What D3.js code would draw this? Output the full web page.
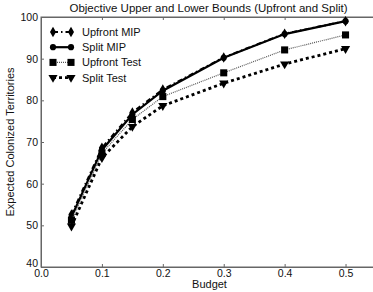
<!DOCTYPE html>
<html>
<head>
<meta charset="utf-8">
<script src="https://cdn.jsdelivr.net/npm/d3@7/dist/d3.min.js"></script>
<style>
  body { margin: 0; background: #fff; }
  svg { display: block; font-family: "Liberation Sans", Arial, sans-serif; }
</style>
</head>
<body>
<div id="chart"></div>
<script>
// budgets on x
var budgets = [0.05, 0.1, 0.15, 0.2, 0.3, 0.4, 0.5];

var upfrontMIP  = [52.6, 68.6, 77.1, 82.6, 90.3, 96.0, 99.0];
var splitMIP    = [52.0, 68.1, 76.6, 82.3, 90.2, 95.9, 99.0];
var upfrontTest = [51.2, 67.3, 75.4, 80.9, 86.6, 92.1, 95.7];
var splitTest   = [49.8, 66.2, 73.7, 78.7, 84.1, 88.7, 92.4];

var xTicks = [0, 0.1, 0.2, 0.3, 0.4, 0.5];
var yTicks = [40, 50, 60, 70, 80, 90, 100];

var seriesNames = ["Upfront MIP", "Split MIP", "Upfront Test", "Split Test"];

var margin = { top: 17, right: -3, bottom: 25, left: 41 };
var W = 373, H = 292;
var width = W - margin.left - margin.right;
var height = H - margin.top - margin.bottom;

var x = d3.scaleLinear().domain([0, 0.55]).range([0, width]);
var y = d3.scaleLinear().domain([40, 100]).range([height, 0]);

var svg = d3.select("#chart").append("svg")
  .attr("width", W)
  .attr("height", H);

var g = svg.append("g")
  .attr("transform", "translate(" + margin.left + "," + margin.top + ")");

// frame
g.append("rect")
  .attr("width", width)
  .attr("height", height)
  .attr("fill", "none")
  .attr("stroke", "#666")
  .attr("stroke-width", 1);

var xAxis = d3.axisBottom(x).tickValues(xTicks).tickSize(-3).tickPadding(3)
  .tickFormat(d3.format(".1f"));
var yAxis = d3.axisLeft(y).tickValues(yTicks).tickSize(-3).tickPadding(3);

var gx = g.append("g").attr("transform", "translate(0," + height + ")").call(xAxis);
var gy = g.append("g").call(yAxis);
// ticks on the top edge too
g.append("g").call(d3.axisTop(x).tickValues(xTicks).tickSize(-3).tickFormat(""));

[gx, gy].forEach(function (a) {
  a.selectAll("text").attr("font-size", 10.5).attr("fill", "#111")
    .attr("font-family", "Liberation Sans, Arial, sans-serif");
});
// the corner labels sit tight together, lift "40" a little
gy.selectAll(".tick text").filter(function (d) { return d === 40; }).attr("dy", "-0.05em");
g.selectAll(".domain").attr("stroke", "#666");
g.selectAll(".tick line").attr("stroke", "#666");

var series = [
  { name: seriesNames[0], vals: upfrontMIP, dash: "5,3,1.5,3", w: 2, color: "#000", sym: d3.symbolDiamond, size: 32 },
  { name: seriesNames[1], vals: splitMIP, dash: null, w: 2.2, color: "#000", sym: d3.symbolCircle, size: 30 },
  { name: seriesNames[2], vals: upfrontTest, dash: "1,1", w: 1.2, color: "#555", sym: d3.symbolSquare, size: 50 },
  { name: seriesNames[3], vals: splitTest, dash: "3,3", w: 2.8, color: "#000", sym: d3.symbolTriangle, size: 36 }
];

var line = d3.line().x(function (d) { return x(d[0]); }).y(function (d) { return y(d[1]); });

series.forEach(function (s) {
  var pts = budgets.map(function (b, i) { return [b, s.vals[i]]; });
  g.append("path")
    .datum(pts)
    .attr("d", line)
    .attr("fill", "none")
    .attr("stroke", s.color)
    .attr("stroke-width", s.w)
    .attr("stroke-dasharray", s.dash);
  g.selectAll(null).data(pts).enter().append("path")
    .attr("d", d3.symbol().type(s.sym).size(s.size))
    .attr("transform", function (d) {
      return "translate(" + x(d[0]) + "," + y(d[1]) + ")" + (s.sym === d3.symbolTriangle ? " rotate(180)" : "");
    })
    .attr("fill", "#000");
});

// legend
var leg = svg.append("g").attr("transform", "translate(53,32)");
series.forEach(function (s, i) {
  var row = leg.append("g").attr("transform", "translate(0," + (i * 15.2) + ")");
  row.append("line")
    .attr("x1", 0).attr("x2", 18)
    .attr("stroke", s.color)
    .attr("stroke-width", s.w)
    .attr("stroke-dasharray", s.dash);
  [0, 18].forEach(function (px) {
    row.append("path")
      .attr("d", d3.symbol().type(s.sym).size(s.size))
      .attr("transform", "translate(" + px + ",0)" + (s.sym === d3.symbolTriangle ? " rotate(180)" : ""))
      .attr("fill", "#000");
  });
  row.append("text")
    .attr("x", 29).attr("y", 4)
    .attr("font-size", 11)
    .attr("fill", "#111")
    .text(s.name);
});

// titles
svg.append("text")
  .attr("x", margin.left + width / 2).attr("y", 12)
  .attr("text-anchor", "middle")
  .attr("font-size", 11.5)
  .attr("fill", "#111")
  .text("Objective Upper and Lower Bounds (Upfront and Split)");

svg.append("text")
  .attr("x", margin.left + width / 2 + 1).attr("y", 288)
  .attr("text-anchor", "middle")
  .attr("font-size", 11)
  .attr("fill", "#111")
  .text("Budget");

svg.append("text")
  .attr("transform", "translate(14," + (margin.top + height / 2) + ") rotate(-90)")
  .attr("text-anchor", "middle")
  .attr("font-size", 11)
  .attr("fill", "#111")
  .text("Expected Colonized Territories");
</script>
</body>
</html>
